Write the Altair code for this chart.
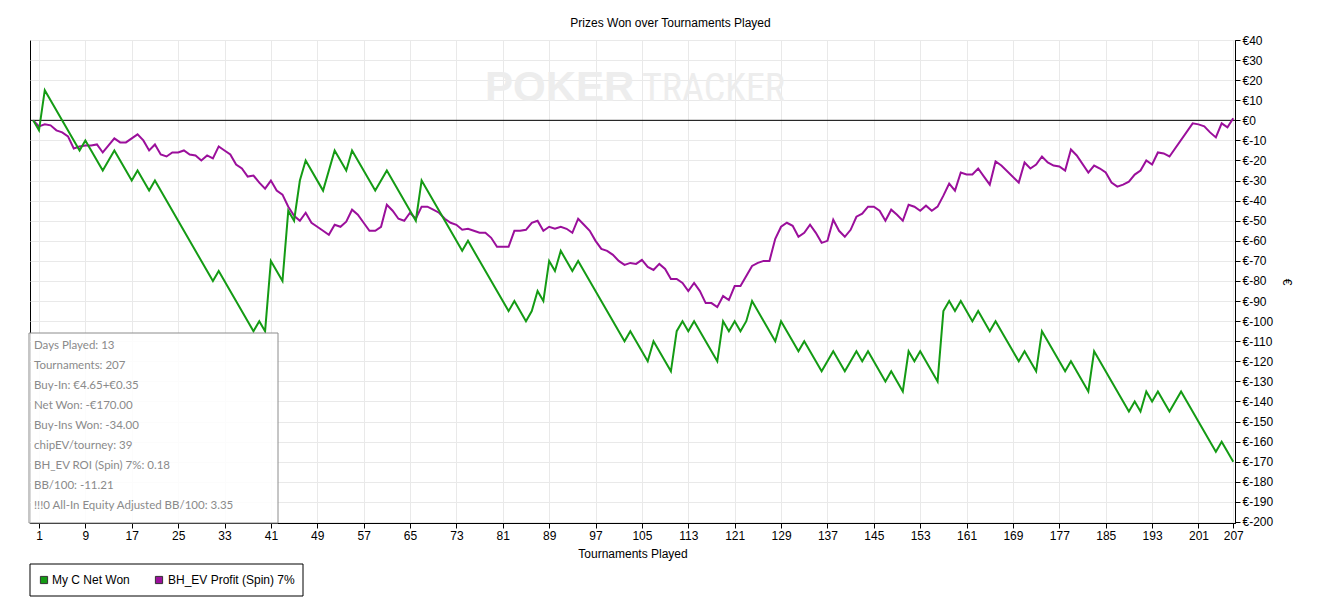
import altair as alt
import pandas as pd

# ---------------- data ----------------
series_names = ["My C Net Won", "BH_EV Profit (Spin) 7%"]
series_colors = ["#149b14", "#9b0f9b"]

# green: vertices of the cumulative net won line (tournament index, euros)
green_t = [0, 1, 2, 8, 9, 12, 14, 17, 18, 20, 21, 31, 32, 38, 39, 40, 41, 43, 44, 45,
           46, 47, 50, 52, 54, 55, 59, 61, 66, 67, 74, 75, 82, 83, 85, 86, 87, 88, 89, 90,
           91, 93, 94, 102, 103, 106, 107, 110, 111, 112, 113, 114, 118, 119, 120, 121, 122, 123, 124, 128,
           129, 132, 133, 136, 138, 140, 142, 143, 144, 147, 148, 150, 151, 152, 153, 156, 157, 158, 159, 160,
           162, 163, 165, 166, 170, 171, 173, 174, 178, 179, 182, 183, 189, 190, 191, 192, 193, 194, 196, 198,
           204, 205, 207]
green_v = [0, -5, 15, -15, -10, -25, -15, -30, -25, -35, -30, -80, -75, -105, -100, -105, -70, -80, -45, -50,
           -30, -20, -35, -15, -25, -15, -35, -25, -50, -30, -65, -60, -95, -90, -100, -95, -85, -90, -70, -75,
           -65, -75, -70, -110, -105, -120, -110, -125, -105, -100, -105, -100, -120, -100, -105, -100, -105, -100, -90, -110,
           -100, -115, -110, -125, -115, -125, -115, -120, -115, -130, -125, -135, -115, -120, -115, -130, -95, -90, -95, -90,
           -100, -95, -105, -100, -120, -115, -125, -105, -125, -120, -135, -115, -145, -140, -145, -135, -140, -135, -145, -135,
           -165, -160, -170]

# purple: BH_EV profit line
purple_t = list(range(0, 168)) + list(range(170, 181)) + list(range(182, 197)) + list(range(200, 208))
purple_v = [0, -3, -2, -2.5, -5, -6, -8, -14, -13, -12.5,
            -12.5, -12, -16, -12.5, -9, -11, -11, -9, -7, -10,
            -15, -12, -17, -18, -16, -16, -15, -17, -17.5, -20,
            -17.5, -19, -13, -15, -17, -22, -24, -28, -27.5, -31,
            -34, -30, -35, -37, -43, -47.5, -50, -46, -51, -53,
            -55, -57, -52, -53, -50.5, -44.5, -47, -51, -55, -55,
            -53, -42, -45, -49, -50, -46, -49, -43, -43, -44.5,
            -46, -49, -51, -52, -54.5, -54, -55, -56, -56, -58.5,
            -63, -63, -63, -55, -55, -54.5, -51, -50, -55, -53,
            -54, -53, -54, -56, -49, -52, -55, -60, -64, -65,
            -67, -70, -72, -71, -71.5, -69.5, -73, -74.5, -71.5, -74,
            -79, -79, -81, -85, -81, -85, -91, -91, -93, -87.5,
            -89.5, -82.5, -82.5, -77.5, -72.5, -71, -70, -70, -59, -53,
            -51, -52.5, -58, -56, -52, -56, -61, -60, -49.5, -55,
            -58, -54.5, -48, -46.5, -43, -43, -45, -50, -44.5, -47,
            -50, -42, -43, -45, -42.5, -45, -43, -37.5, -31.5, -35,
            -26, -27, -27, -24, -28, -32, -20.5, -22.5,
            -31, -21, -24, -22, -18, -21, -22.5, -23, -25, -14.5, -17.5,
            -26, -22.5, -24, -26, -31, -33, -32, -30.5, -27, -25, -20, -22, -16, -16.5, -18,
            -1.5, -2, -3, -6, -8.5, -1.5, -3.5, 1]

zero_level = [0]

x_tick_values = list(range(1, 202, 8)) + [207]
y_tick_values = list(range(-200, 41, 10))

stats_lines = [
    "Days Played: 13",
    "Tournaments: 207",
    "Buy-In: €4.65+€0.35",
    "Net Won: -€170.00",
    "Buy-Ins Won: -34.00",
    "chipEV/tourney: 39",
    "BH_EV ROI (Spin) 7%: 0.18",
    "BB/100: -11.21",
    "!!!0 All-In Equity Adjusted BB/100: 3.35",
]

# ---------------- chart ----------------
W, H = 1205, 483
AX_FONT = "Liberation Sans"

df_g = pd.DataFrame({"t": green_t, "v": green_v, "s": series_names[0]})
df_p = pd.DataFrame({"t": purple_t, "v": purple_v, "s": series_names[1]})
df_zero = pd.DataFrame({"v": zero_level})
dummy = pd.DataFrame({"d": [0]})

x_scale = alt.Scale(domain=[-0.55, 207.3], nice=False, zero=False)
y_scale = alt.Scale(domain=[-200.5, 40], nice=False, zero=False)
color_scale = alt.Scale(domain=series_names, range=series_colors)

x_axis = alt.Axis(
    values=x_tick_values, title="Tournaments Played", grid=True, gridColor="#e9e9e9",
    domainColor="black", tickColor="black", tickSize=5, labelColor="black",
    labelFont=AX_FONT, labelFontSize=12, labelPadding=2, labelFlush=False, labelOverlap=False,
    titleFont=AX_FONT, titleFontSize=12, titleFontWeight="normal", titleColor="black",
    titlePadding=7)
y_axis = alt.Axis(
    orient="right", values=y_tick_values, labelExpr="'€' + datum.value", title="€",
    grid=True, gridColor="#e9e9e9", domainColor="black", tickColor="black", tickSize=5,
    labelColor="black", labelFont=AX_FONT, labelFontSize=12, labelPadding=2,
    labelFlush=False, labelOverlap=False, labelBaseline="middle",
    titleFont=AX_FONT, titleFontSize=12, titleFontWeight="normal", titleColor="black",
    titlePadding=7)


def xe():
    return alt.X("t:Q", scale=x_scale, axis=x_axis)


def ye():
    return alt.Y("v:Q", scale=y_scale, axis=y_axis)


zero_rule = alt.Chart(df_zero).mark_rule(color="black", strokeWidth=1).encode(y=ye())

purple_line = alt.Chart(df_p).mark_line(strokeWidth=2, interpolate="linear").encode(
    x=xe(), y=ye(), color=alt.Color("s:N", scale=color_scale, legend=None))
green_line = alt.Chart(df_g).mark_line(strokeWidth=2, interpolate="linear").encode(
    x=xe(), y=ye(), color=alt.Color("s:N", scale=color_scale, legend=None))

# watermark
wm1 = alt.Chart(dummy).mark_text(text="POKER", font="Liberation Sans", fontSize=42, fontWeight="bold",
                                 color="#ededed", align="left", baseline="alphabetic").encode(
    x=alt.value(455), y=alt.value(61))
wm2 = alt.Chart(dummy).mark_text(text="TRACKER", font="'Roboto Condensed', 'DejaVu Sans Condensed', Roboto, sans-serif",
                                 fontSize=38, color="#ededed", align="left", baseline="alphabetic").encode(
    x=alt.value(612), y=alt.value(61))

# stats box
stats_box = alt.Chart(dummy).mark_rect(fill="white", fillOpacity=0.85, stroke="#8c8c8c", strokeWidth=1).encode(
    x=alt.value(-1), x2=alt.value(248), y=alt.value(293), y2=alt.value(483))
stats_text = alt.Chart(pd.DataFrame({"txt": ["\n".join(stats_lines)]})).mark_text(
    lineBreak="\n", lineHeight=20, align="left", baseline="middle", font="Lato",
    fontSize=11.5, color="#8a8a8a").encode(
    x=alt.value(4), y=alt.value(305.5), text="txt:N")

# legend (drawn by hand, like the reference box)
leg_box = alt.Chart(dummy).mark_rect(fill="white", stroke="black", strokeWidth=1).encode(
    x=alt.value(0), x2=alt.value(273), y=alt.value(524), y2=alt.value(556))
leg_layers = [leg_box]
leg_sym_x = [14, 129]
leg_txt_x = [22, 138]
for i, name in enumerate(series_names):
    leg_layers.append(alt.Chart(dummy).mark_square(size=52, fill=series_colors[i], stroke="#333333",
                                                   strokeWidth=1, opacity=1).encode(
        x=alt.value(leg_sym_x[i]), y=alt.value(540)))
    leg_layers.append(alt.Chart(dummy).mark_text(text=name, font=AX_FONT, fontSize=12, color="black",
                                                 align="left", baseline="middle").encode(
        x=alt.value(leg_txt_x[i]), y=alt.value(540)))

chart = alt.layer(
    wm1, wm2, zero_rule, purple_line, green_line, stats_box, stats_text, *leg_layers
).properties(
    width=W, height=H,
    background="white",
    title=alt.TitleParams("Prizes Won over Tournaments Played", font=AX_FONT, fontSize=12,
                          fontWeight="normal", color="black", anchor="middle", dx=38, offset=4),
    padding={"left": 22, "top": 32, "right": 80, "bottom": 80},
    autosize=alt.AutoSizeParams(type="none"),
).configure_view(
    stroke="black", strokeWidth=1
)

chart.save("out.html", embed_options={"renderer": "svg", "actions": False})
